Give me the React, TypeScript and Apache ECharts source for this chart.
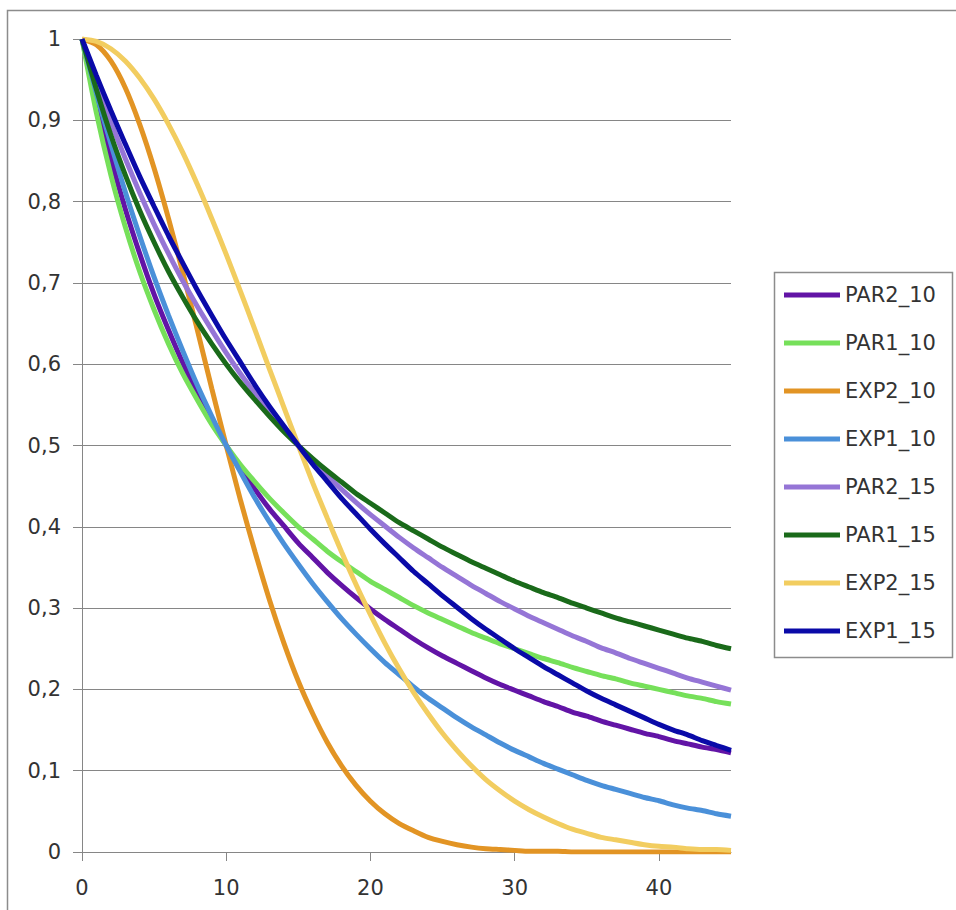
import React, { useEffect, useRef } from "react";
import * as echarts from "echarts";

const xValues = [
  0, 1, 2, 3, 4, 5, 6, 7, 8, 9, 10, 11, 12, 13, 14, 15, 16, 17, 18, 19, 20, 21, 22,
  23, 24, 25, 26, 27, 28, 29, 30, 31, 32, 33, 34, 35, 36, 37, 38, 39, 40, 41, 42, 43, 44, 45,
];

const par2_10 = [
  1, 0.922, 0.853, 0.791, 0.736, 0.686, 0.642, 0.601, 0.564, 0.531, 0.5, 0.472, 0.446, 0.422,
  0.401, 0.38, 0.362, 0.344, 0.328, 0.313, 0.299, 0.286, 0.274, 0.262, 0.251, 0.241, 0.232,
  0.223, 0.214, 0.206, 0.199, 0.192, 0.185, 0.179, 0.172, 0.167, 0.161, 0.156, 0.151, 0.146,
  0.142, 0.137, 0.133, 0.129, 0.126, 0.122,
];
const par1_10 = [
  1, 0.909, 0.833, 0.769, 0.714, 0.667, 0.625, 0.588, 0.556, 0.526, 0.5, 0.476, 0.455, 0.435,
  0.417, 0.4, 0.385, 0.37, 0.357, 0.345, 0.333, 0.323, 0.313, 0.303, 0.294, 0.286, 0.278, 0.27,
  0.263, 0.256, 0.25, 0.244, 0.238, 0.233, 0.227, 0.222, 0.217, 0.213, 0.208, 0.204, 0.2, 0.196,
  0.192, 0.189, 0.185, 0.182,
];
const exp2_10 = [
  1, 0.993, 0.973, 0.94, 0.895, 0.841, 0.779, 0.712, 0.642, 0.57, 0.5, 0.432, 0.369, 0.31,
  0.257, 0.21, 0.17, 0.135, 0.106, 0.082, 0.0625, 0.047, 0.035, 0.026, 0.018, 0.013, 0.009,
  0.006, 0.004, 0.003, 0.002, 0.001, 0.001, 0.001, 0, 0, 0, 0, 0, 0, 0, 0, 0, 0, 0, 0,
];
const exp1_10 = [
  1, 0.933, 0.871, 0.812, 0.758, 0.707, 0.66, 0.616, 0.574, 0.536, 0.5, 0.467, 0.435, 0.406,
  0.379, 0.354, 0.33, 0.308, 0.287, 0.268, 0.25, 0.233, 0.218, 0.203, 0.189, 0.177, 0.165,
  0.154, 0.144, 0.134, 0.125, 0.117, 0.109, 0.102, 0.095, 0.088, 0.082, 0.077, 0.072, 0.067,
  0.063, 0.058, 0.054, 0.051, 0.047, 0.044,
];
const par2_15 = [
  1, 0.947, 0.898, 0.853, 0.811, 0.772, 0.736, 0.702, 0.671, 0.642, 0.614, 0.588, 0.564, 0.541,
  0.52, 0.5, 0.481, 0.463, 0.446, 0.43, 0.415, 0.401, 0.387, 0.374, 0.362, 0.35, 0.339, 0.328,
  0.318, 0.308, 0.299, 0.29, 0.282, 0.274, 0.266, 0.259, 0.251, 0.245, 0.238, 0.232, 0.226,
  0.22, 0.214, 0.209, 0.204, 0.199,
];
const par1_15 = [
  1, 0.938, 0.882, 0.833, 0.789, 0.75, 0.714, 0.682, 0.652, 0.625, 0.6, 0.577, 0.556, 0.536,
  0.517, 0.5, 0.484, 0.469, 0.455, 0.441, 0.429, 0.417, 0.405, 0.395, 0.385, 0.375, 0.366,
  0.357, 0.349, 0.341, 0.333, 0.326, 0.319, 0.313, 0.306, 0.3, 0.294, 0.288, 0.283, 0.278,
  0.273, 0.268, 0.263, 0.259, 0.254, 0.25,
];
const exp2_15 = [
  1, 0.997, 0.988, 0.973, 0.952, 0.926, 0.895, 0.86, 0.821, 0.779, 0.735, 0.689, 0.642, 0.594,
  0.547, 0.5, 0.454, 0.411, 0.369, 0.329, 0.292, 0.257, 0.225, 0.196, 0.17, 0.146, 0.125,
  0.106, 0.089, 0.075, 0.0625, 0.052, 0.043, 0.035, 0.028, 0.023, 0.018, 0.015, 0.012, 0.009,
  0.007, 0.006, 0.004, 0.003, 0.003, 0.002,
];
const exp1_15 = [
  1, 0.955, 0.912, 0.871, 0.831, 0.794, 0.758, 0.724, 0.691, 0.66, 0.63, 0.602, 0.574, 0.548,
  0.524, 0.5, 0.477, 0.456, 0.435, 0.416, 0.397, 0.379, 0.362, 0.345, 0.33, 0.315, 0.301,
  0.287, 0.274, 0.262, 0.25, 0.239, 0.228, 0.218, 0.208, 0.198, 0.189, 0.181, 0.173, 0.165,
  0.157, 0.15, 0.144, 0.137, 0.131, 0.125,
];

const seriesNames = ["PAR2_10", "PAR1_10", "EXP2_10", "EXP1_10", "PAR2_15", "PAR1_15", "EXP2_15", "EXP1_15"];
const seriesValues = [par2_10, par1_10, exp2_10, exp1_10, par2_15, par1_15, exp2_15, exp1_15];
const seriesColors = ["#6214a6", "#76e05a", "#e29424", "#4a90d9", "#9575d6", "#1a6a1a", "#f2cd60", "#0a0aa8"];
const xTickLabels = [0, 10, 20, 30, 40];

const FONT = "DejaVu Sans";
const TEXT_COLOR = "#333333";
const AXIS_COLOR = "#868686";

export default function App() {
  const ref = useRef<HTMLDivElement>(null);

  useEffect(() => {
    document.body.style.margin = "0";
    if (!ref.current) return;
    const chart = echarts.init(ref.current, undefined, { renderer: "svg" });
    chart.setOption({
      animation: false,
      backgroundColor: "#ffffff",
      grid: { left: 82, top: 39, right: 225, bottom: 58, containLabel: false },
      xAxis: {
        type: "value",
        min: 0,
        max: 45,
        interval: 10,
        axisLine: { show: true, lineStyle: { color: AXIS_COLOR, width: 1 } },
        axisTick: { show: true, length: 9, customValues: xTickLabels, lineStyle: { color: AXIS_COLOR } },
        axisLabel: {
          customValues: xTickLabels,
          margin: 25,
          fontFamily: FONT,
          fontSize: 21,
          color: TEXT_COLOR,
        },
        splitLine: { show: false },
      },
      yAxis: {
        type: "value",
        min: 0,
        max: 1,
        interval: 0.1,
        axisLine: { show: true, lineStyle: { color: AXIS_COLOR, width: 1 } },
        axisTick: { show: true, length: 9, lineStyle: { color: AXIS_COLOR } },
        axisLabel: {
          margin: 21,
          fontFamily: FONT,
          fontSize: 21,
          color: TEXT_COLOR,
          formatter: (v: number) => String(Math.round(v * 10) / 10).replace(".", ","),
        },
        splitLine: { show: true, lineStyle: { color: AXIS_COLOR, width: 1 } },
      },
      legend: {
        orient: "vertical",
        left: 774,
        top: 272,
        padding: [11, 10, 14, 10],
        itemWidth: 56,
        itemHeight: 5,
        itemGap: 24,
        itemTextGap: 2,
        icon: "rect",
        data: seriesNames,
        textStyle: { fontFamily: FONT, fontSize: 21, color: TEXT_COLOR, lineHeight: 24 },
      },
      graphic: [
        {
          type: "rect",
          shape: { x: 7.5, y: 10.5, width: 1200, height: 1200 },
          style: { fill: "none", stroke: "#8c8c8c", lineWidth: 1.5 },
          silent: true,
          z: -10,
        },
        {
          type: "rect",
          shape: { x: 774.5, y: 272.5, width: 178, height: 385 },
          style: { fill: "none", stroke: "#8c8c8c", lineWidth: 1.5 },
          silent: true,
        },
      ],
      series: seriesNames.map((name, i) => ({
        name,
        type: "line",
        showSymbol: false,
        symbol: "none",
        smooth: 0.25,
        data: xValues.map((x, j) => [x, seriesValues[i][j]]),
        lineStyle: { color: seriesColors[i], width: 5 },
        itemStyle: { color: seriesColors[i] },
        emphasis: { disabled: true },
      })),
    });
    return () => chart.dispose();
  }, []);

  return <div ref={ref} style={{ width: 956, height: 910 }} />;
}
